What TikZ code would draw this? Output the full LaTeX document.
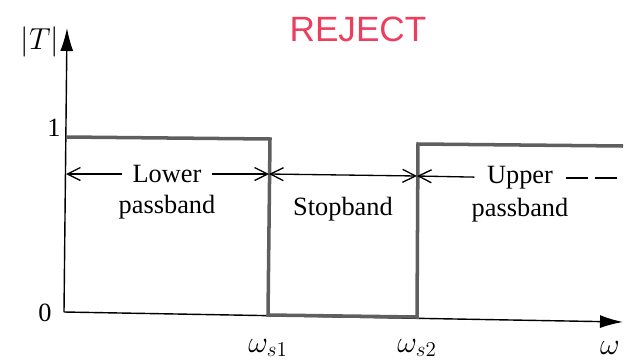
\documentclass[tikz,border=0pt]{standalone}
\usepackage{fontspec}
\setmainfont{Liberation Serif}
\newfontfamily\markerfont{Liberation Sans}
\usetikzlibrary{arrows.meta}
\definecolor{response}{RGB}{95, 95, 95}
\definecolor{marker}{RGB}{236, 62, 95}

\begin{document}
\begin{tikzpicture}[x=0.02cm, y=-0.02cm,
		lbl/.style={font=\fontsize{15}{18}\selectfont, inner sep=0pt},
		sym/.style={font=\fontsize{17}{20}\selectfont, inner sep=0pt},
		gap/.style={font=\fontsize{15}{18}\selectfont, inner sep=6pt},
		axis/.style={line width=0.8pt, -{Latex[length=4.6mm, width=2.6mm]}},
		band/.style={line width=0.75pt, -{Straight Barb[length=2.6mm, width=2.6mm]}},
		both/.style={line width=0.75pt, {Straight Barb[length=2.6mm, width=2.6mm]}-{Straight Barb[length=2.6mm, width=2.6mm]}},
		resp/.style={draw=response, line width=2pt, line join=miter}]
	\useasboundingbox (0,0) rectangle (629,359);
	% axes
	\coordinate (o) at (64,312);
	\coordinate (ytop) at (67,28);
	\coordinate (xend) at (623,322);
	\draw[axis] (o) -- (ytop);
	\draw[axis] (o) -- (xend);
	\node[sym] (tlabel) at (40,42) {$|T|$};
	\node[lbl] (one) at (54,128) {1};
	\node[lbl] (zero) at (45,313) {0};
	\node[sym] (ws1) at (268,348) {$\omega_{s1}$};
	\node[sym] (ws2) at (417,348) {$\omega_{s2}$};
	\node[sym] (w) at (610,348) {$\omega$};
	% band-reject response
	\coordinate (p1) at (66,137);
	\coordinate (p2) at (270,139);
	\coordinate (p3) at (268,315);
	\coordinate (p4) at (417,317);
	\coordinate (p5) at (418,144);
	\coordinate (p6) at (623,146);
	\draw[resp] (p1) -- (p2) -- (p3) -- (p4) -- (p5) -- (p6);
	% bands
	\coordinate (l0) at (66,174);
	\coordinate (s1) at (269,174);
	\coordinate (s2) at (417,176);
	\coordinate (uend) at (620,178);
	\node[gap] (lower) at (167,174) {Lower};
	\node[lbl] (lowerpb) at (167,207) {passband};
	\draw[band] (lower) -- (l0);
	\draw[band] (lower) -- (s1);
	\node[lbl] (stop) at (343,209) {Stopband};
	\draw[both] (s1) -- (s2);
	\node[gap, inner xsep=7pt] (upper) at (520,178) {Upper};
	\node[lbl] (upperpb) at (520,210) {passband};
	\draw[band] (upper) -- (s2);
	\draw[line width=0.75pt, dash pattern=on 13pt off 3.5pt] (upper.east) -- (uend);
	\node[text=marker, font=\markerfont\fontsize{20}{24}\selectfont, inner sep=0pt] (mark) at (358,29) {REJECT};
\end{tikzpicture}
\end{document}
